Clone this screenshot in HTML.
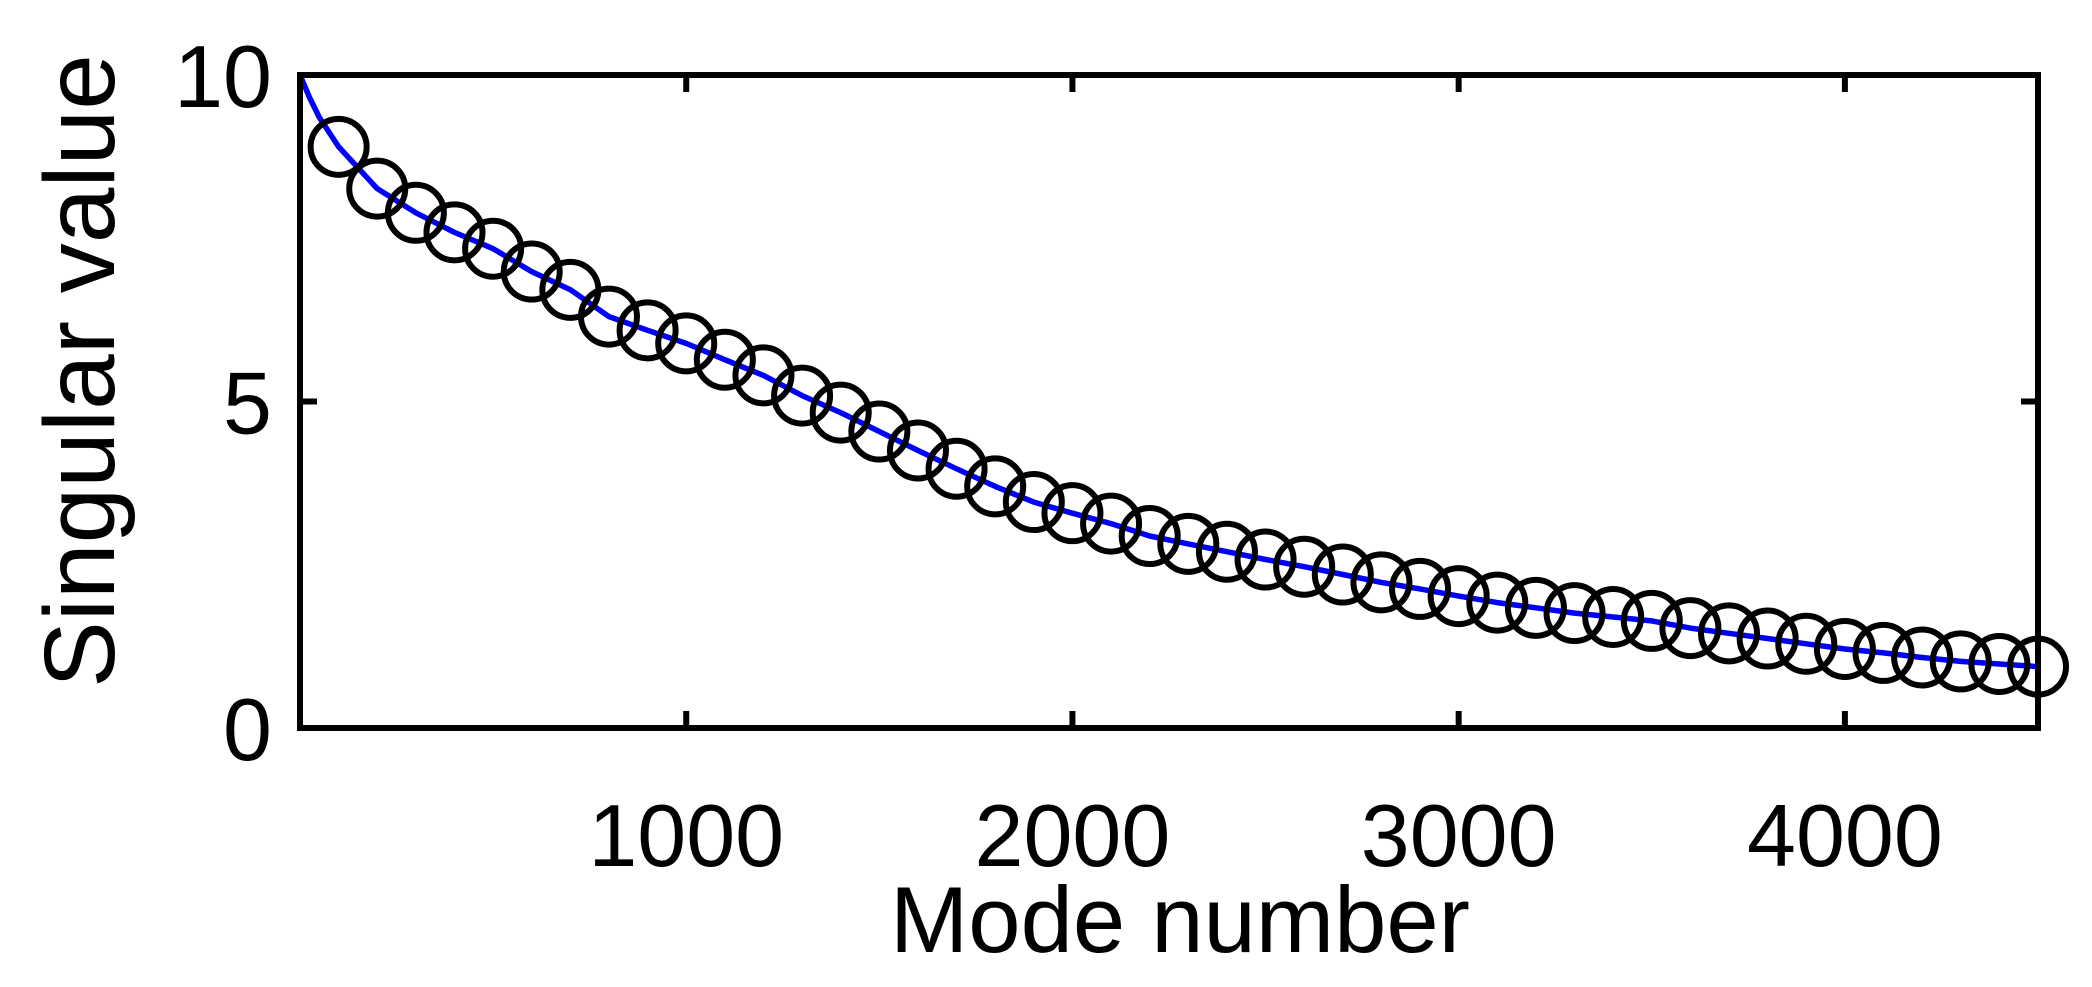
<!DOCTYPE html>
<html><head><meta charset="utf-8"><style>
html,body{margin:0;padding:0;background:#fff;}
svg{display:block;}
text{font-family:"Liberation Sans",Arial,sans-serif;fill:#000;}
</style></head><body>
<svg id="chart" width="2092" height="987" viewBox="0 0 2092 987" xmlns="http://www.w3.org/2000/svg">
<g id="plot"></g>
</svg>
<script>
const modes = [100,200,300,400,500,600,700,800,900,1000,1100,1200,1300,1400,1500,1600,1700,1800,1900,2000,2100,2200,2300,2400,2500,2600,2700,2800,2900,3000,3100,3200,3300,3400,3500,3600,3700,3800,3900,4000,4100,4200,4300,4400,4500];
const singularValues = [8.9,8.26,7.89,7.59,7.34,6.99,6.71,6.30,6.09,5.89,5.64,5.40,5.09,4.83,4.54,4.25,3.97,3.70,3.46,3.29,3.13,2.94,2.82,2.70,2.58,2.47,2.35,2.23,2.13,2.02,1.92,1.84,1.76,1.70,1.64,1.53,1.45,1.37,1.29,1.21,1.15,1.08,1.02,0.98,0.94];
const lineStartModes = [0,25,50];
const lineStartValues = [10,9.65,9.35];
const xTicks = [1000,2000,3000,4000];
const xTickLabels = ["1000","2000","3000","4000"];
const yTicks = [0,5,10];
const yTickLabels = ["0","5","10"];

const NS="http://www.w3.org/2000/svg";
const L=300,R=2038,T=75,B=728;
const xMin=0,xMax=4500,yMin=0,yMax=10;
function sx(v){return L+(v-xMin)/(xMax-xMin)*(R-L);}
function sy(v){return B-(v-yMin)/(yMax-yMin)*(B-T);}
const g=document.getElementById('plot');
function mk(tag,attrs,parent){const e=document.createElementNS(NS,tag);for(const k in attrs)e.setAttribute(k,attrs[k]);(parent||g).appendChild(e);return e;}

const lx=lineStartModes.concat(modes), ly=lineStartValues.concat(singularValues);
let d='';
for(let i=0;i<lx.length;i++){d+=(i?'L':'M')+sx(lx[i]).toFixed(1)+' '+sy(ly[i]).toFixed(1);}
const line=mk('path',{d:d,fill:'none',stroke:'#0000ff','stroke-width':5.5,'stroke-linejoin':'round'});



for(let i=0;i<modes.length;i++){
  const c=mk('circle',{cx:sx(modes[i]),cy:sy(singularValues[i]),r:28,fill:'none',stroke:'#000','stroke-width':6});
  
  
}

const box=mk('rect',{x:L,y:T,width:R-L,height:B-T,fill:'none',stroke:'#000','stroke-width':6});



for(let i=0;i<xTicks.length;i++){
  const x=sx(xTicks[i]);
  const t1=mk('line',{x1:x,y1:B,x2:x,y2:B-17,stroke:'#000','stroke-width':6});
  
  
  const t2=mk('line',{x1:x,y1:T,x2:x,y2:T+17,stroke:'#000','stroke-width':6});
  
  
  const tx=mk('text',{x:x,y:866,'text-anchor':'middle','font-size':88});
  tx.textContent=xTickLabels[i];
  
  
}
for(let i=0;i<yTicks.length;i++){
  const y=sy(yTicks[i]);
  const t1=mk('line',{x1:L,y1:y,x2:L+17,y2:y,stroke:'#000','stroke-width':6});
  
  
  const t2=mk('line',{x1:R,y1:y,x2:R-17,y2:y,stroke:'#000','stroke-width':6});
  
  
  const tx=mk('text',{x:272,y:y+32,'text-anchor':'end','font-size':88});
  tx.textContent=yTickLabels[i];
  
  
}
const xt=mk('text',{x:1180,y:952,'text-anchor':'middle','font-size':94});
xt.textContent='Mode number';


const yt=mk('text',{x:0,y:0,'text-anchor':'middle','font-size':100,transform:'translate(114,371) rotate(-90)'});
yt.textContent='Singular value';


</script>
</body></html>
